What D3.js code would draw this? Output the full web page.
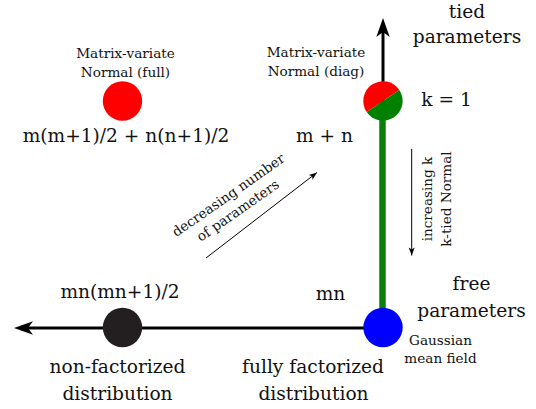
<!DOCTYPE html>
<html>
<head>
<meta charset="utf-8">
<script src="https://cdn.jsdelivr.net/npm/d3@7"></script>
<style>
  html, body { margin: 0; padding: 0; background: #fff; }
</style>
</head>
<body>
<svg id="chart" width="536" height="409"></svg>
<script>
// ---- data ----
const columns = ["non-factorized", "fully factorized"];
const rows = ["tied", "free"];
const nodeNames = ["Matrix-variate Normal (full)", "Matrix-variate Normal (diag)", "non-factorized distribution", "Gaussian mean field"];
const nodeColumn = ["non-factorized", "fully factorized", "non-factorized", "fully factorized"];
const nodeRow = ["tied", "tied", "free", "free"];
const nodeColors = [["#ff0000"], ["#ff0000", "#008000"], ["#231f20"], ["#0000ff"]];
const paramCounts = ["m(m+1)/2 + n(n+1)/2", "m + n", "mn(mn+1)/2", "mn"];

const FONT = "'DejaVu Serif', 'Liberation Serif', serif";
const svg = d3.select("#chart");
const x = d3.scalePoint().domain(columns).range([122.5, 383]);
const y = d3.scalePoint().domain(rows).range([101, 327.5]);
const R = 19.7;

const defs = svg.append("defs");
function marker(id, len, hw, notch) {
  defs.append("marker").attr("id", id)
    .attr("markerUnits", "userSpaceOnUse")
    .attr("viewBox", `${-len - 1} ${-hw - 1} ${len + 2} ${2 * hw + 2}`)
    .attr("refX", 0).attr("refY", 0)
    .attr("markerWidth", len + 2).attr("markerHeight", 2 * hw + 2)
    .attr("orient", "auto")
    .append("path")
    .attr("d", `M0,0 L${-len},${-hw} L${-len + notch},0 L${-len},${hw} Z`)
    .attr("fill", "#000");
}
marker("bigArrow", 19, 6.7, 5);
marker("smallArrow", 8, 3, 2);

const xL = x("non-factorized"), xR = x("fully factorized");
const yT = y("tied"), yB = y("free");

// horizontal axis (free parameters row), arrow to the left
svg.append("line").attr("x1", xR).attr("y1", yB + 0.5).attr("x2", 27).attr("y2", yB + 0.5)
  .attr("stroke", "#000").attr("stroke-width", 3);
svg.append("line").attr("x1", 40).attr("y1", yB + 0.5).attr("x2", 14).attr("y2", yB + 0.5)
  .attr("stroke", "none").attr("marker-end", "url(#bigArrow)");

// vertical black arrow up from diag node
svg.append("line").attr("x1", xR).attr("y1", yT).attr("x2", xR).attr("y2", 31)
  .attr("stroke", "#000").attr("stroke-width", 3);
svg.append("line").attr("x1", xR).attr("y1", 40).attr("x2", xR).attr("y2", 18)
  .attr("stroke", "none").attr("marker-end", "url(#bigArrow)");

// green k-tied line
svg.append("line").attr("x1", xR - 0.5).attr("y1", yT).attr("x2", xR - 0.5).attr("y2", yB)
  .attr("stroke", "#0a800a").attr("stroke-width", 6.5);

// nodes
const splitAngle = 56 * Math.PI / 180;
nodeNames.forEach((name, i) => {
  const cx = x(nodeColumn[i]), cy = y(nodeRow[i]);
  const cols = nodeColors[i];
  if (cols.length === 1) {
    svg.append("circle").attr("cx", cx).attr("cy", cy).attr("r", R).attr("fill", cols[0]);
  } else {
    const arc = d3.arc().innerRadius(0).outerRadius(R);
    const g = svg.append("g").attr("transform", `translate(${cx},${cy})`);
    g.append("path").attr("d", arc({ startAngle: splitAngle - Math.PI, endAngle: splitAngle })).attr("fill", cols[0]);
    g.append("path").attr("d", arc({ startAngle: splitAngle, endAngle: splitAngle + Math.PI })).attr("fill", cols[1]);
  }
});

// text helper
function txt(parent, s, tx, ty, size, anchor = "middle") {
  return parent.append("text").attr("x", tx).attr("y", ty)
    .attr("font-family", FONT).attr("font-size", size).attr("fill", "#111")
    .attr("text-anchor", anchor).text(s);
}
const BIG = 18.6, SMALL = 13.6;

// node labels
txt(svg, "Matrix-variate", 125.5, 58, SMALL);
txt(svg, "Normal (full)", 125.5, 77, SMALL);
txt(svg, "Matrix-variate", 316, 57, SMALL);
txt(svg, "Normal (diag)", 316, 75.5, SMALL);
txt(svg, "Gaussian", 440.5, 345, SMALL);
txt(svg, "mean field", 440.5, 363, SMALL);

// parameter counts
txt(svg, paramCounts[0], 126, 142, BIG);
txt(svg, paramCounts[1], 324.5, 142, BIG);
txt(svg, paramCounts[2], 120, 298, BIG);
txt(svg, paramCounts[3], 330.5, 300, BIG);
txt(svg, "k = 1", 446.5, 106, BIG);

// row labels
txt(svg, "tied", 467, 17.5, BIG);
txt(svg, "parameters", 467, 43, BIG);
txt(svg, "free", 471.5, 290, BIG);
txt(svg, "parameters", 471.5, 317, BIG);

// column labels
txt(svg, "non-factorized", 117.5, 373, BIG);
txt(svg, "distribution", 117.5, 400, BIG);
txt(svg, "fully factorized", 313, 373, BIG);
txt(svg, "distribution", 313.5, 400, BIG);

// diagonal annotation
const dg = svg.append("g").attr("transform", "translate(231,199) rotate(-35)");
txt(dg, "decreasing number", 0, 0, SMALL);
txt(dg, "of parameters", -1, 18, SMALL);
svg.append("line").attr("x1", 206).attr("y1", 258).attr("x2", 317).attr("y2", 172.5)
  .attr("stroke", "#000").attr("stroke-width", 1).attr("marker-end", "url(#smallArrow)");

// vertical annotation
svg.append("line").attr("x1", 411.7).attr("y1", 149).attr("x2", 411.7).attr("y2", 255.5)
  .attr("stroke", "#000").attr("stroke-width", 1).attr("marker-end", "url(#smallArrow)");
const vg = svg.append("g").attr("transform", "translate(431.5,199) rotate(-90)");
txt(vg, "increasing k", 0, 0, SMALL);
txt(vg, "k-tied Normal", 0, 19.5, SMALL);
</script>
</body>
</html>
